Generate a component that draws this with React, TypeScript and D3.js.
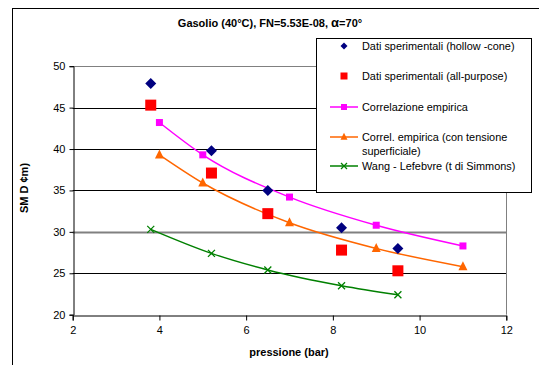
import { useRef, useEffect } from 'react';
import * as d3 from 'd3';

const W = 539;
const H = 365;

// data
const hollowX = [3.8, 5.2, 6.5, 8.2, 9.5];
const hollowY = [47.9, 39.8, 35.0, 30.5, 28.0];
const allPurposeX = [3.8, 5.2, 6.5, 8.2, 9.5];
const allPurposeY = [45.3, 37.1, 32.2, 27.8, 25.3];
const correlX = [4, 5, 7, 9, 11];
const correlY = [43.2, 39.3, 34.2, 30.8, 28.3];
const tensioneX = [4, 5, 7, 9, 11];
const tensioneY = [39.3, 35.9, 31.1, 28.0, 25.8];
const wangX = [3.8, 5.2, 6.5, 8.2, 9.5];
const wangY = [30.3, 27.4, 25.4, 23.5, 22.4];

const xTicks = [2, 4, 6, 8, 10, 12];
const yTicks = [20, 25, 30, 35, 40, 45, 50];

const FONT = 'Liberation Sans, Arial, sans-serif';

type Pt = [number, number];
const zip = (xs: number[], ys: number[]): Pt[] => xs.map((x, i) => [x, ys[i]]);

export default function App() {
  const svgRef = useRef<SVGSVGElement>(null);

  useEffect(() => {
    document.body.style.margin = '0';
    const svg = d3.select(svgRef.current);
    svg.selectAll('*').remove();

    const x = d3.scaleLinear().domain([2, 12]).range([72.7, 506.3]);
    const y = d3.scaleLinear().domain([20, 50]).range([314.7, 66.2]);

    svg.append('rect').attr('width', W).attr('height', H).attr('fill', '#fff');

    // outer chart border (runs off the picture right and bottom)
    svg
      .append('rect')
      .attr('x', 12.5)
      .attr('y', 8.5)
      .attr('width', 700)
      .attr('height', 500)
      .attr('fill', 'none')
      .attr('stroke', '#000')
      .attr('stroke-width', 1);

    // title
    const title = svg
      .append('text')
      .attr('x', 270)
      .attr('y', 27)
      .attr('text-anchor', 'middle')
      .attr('font-family', FONT)
      .attr('font-size', 11)
      .attr('font-weight', 700);
    title.append('tspan').text('Gasolio (40°C), FN=5.53E-08, ');
    title.append('tspan').attr('font-size', 13).text('α');
    title.append('tspan').text('=70°');

    // gridlines
    yTicks.slice(1, -1).forEach((v) => {
      svg
        .append('line')
        .attr('x1', x(2))
        .attr('x2', x(12))
        .attr('y1', Math.round(y(v)) + 0.5)
        .attr('y2', Math.round(y(v)) + 0.5)
        .attr('stroke', v === 30 ? '#808080' : '#000')
        .attr('stroke-width', v === 30 ? 2 : 1);
    });

    // plot area frame (top/right grey)
    svg
      .append('path')
      .attr(
        'd',
        `M${x(2)},${Math.round(y(50)) + 0.5}H${Math.round(x(12)) + 0.5}V${y(20)}`,
      )
      .attr('fill', 'none')
      .attr('stroke', '#808080')
      .attr('stroke-width', 1);

    // axes
    const xAxis = d3
      .axisBottom(x)
      .tickValues(xTicks)
      .tickSize(5)
      .tickPadding(6)
      .tickFormat((d) => String(d));
    const gx = svg
      .append('g')
      .attr('transform', `translate(0,${Math.round(y(20)) + 0.5})`)
      .call(xAxis);
    gx.select('.domain').attr('stroke', '#000');
    gx.selectAll('text')
      .attr('font-family', FONT)
      .attr('font-size', 11)
      .attr('fill', '#000');

    const yAxis = d3
      .axisLeft(y)
      .tickValues(yTicks)
      .tickSize(4)
      .tickPadding(4)
      .tickFormat((d) => String(d));
    const gy = svg
      .append('g')
      .attr('transform', `translate(${Math.round(x(2)) + 0.5},0)`)
      .call(yAxis);
    gy.select('.domain').attr('stroke', '#000');
    gy.selectAll('text')
      .attr('font-family', FONT)
      .attr('font-size', 11)
      .attr('fill', '#000');

    // axis titles
    svg
      .append('text')
      .attr('x', 289)
      .attr('y', 356)
      .attr('text-anchor', 'middle')
      .attr('font-family', FONT)
      .attr('font-size', 11)
      .attr('font-weight', 700)
      .text('pressione (bar)');
    svg
      .append('text')
      .attr('transform', 'translate(28,188) rotate(-90)')
      .attr('text-anchor', 'middle')
      .attr('font-family', FONT)
      .attr('font-size', 11)
      .attr('font-weight', 700)
      .text('SM D ¢m)');

    // lines
    const line = d3
      .line<Pt>()
      .x((d) => x(d[0]))
      .y((d) => y(d[1]))
      .curve(d3.curveMonotoneX);
    const lineSeries: [Pt[], string][] = [
      [zip(correlX, correlY), '#FF00FF'],
      [zip(tensioneX, tensioneY), '#FF6600'],
      [zip(wangX, wangY), '#008000'],
    ];
    lineSeries.forEach(([pts, c]) => {
      svg
        .append('path')
        .attr('d', line(pts))
        .attr('fill', 'none')
        .attr('stroke', c)
        .attr('stroke-width', 1.5);
    });

    // markers
    const diamond = (g: d3.Selection<any, any, any, any>, cx: number, cy: number, r: number, c: string) =>
      g
        .append('path')
        .attr('d', `M${cx},${cy - r}L${cx + r},${cy}L${cx},${cy + r}L${cx - r},${cy}Z`)
        .attr('fill', c);
    const square = (g: d3.Selection<any, any, any, any>, cx: number, cy: number, s: number, c: string) =>
      g
        .append('rect')
        .attr('x', cx - s / 2)
        .attr('y', cy - s / 2)
        .attr('width', s)
        .attr('height', s)
        .attr('fill', c);
    const triangle = (g: d3.Selection<any, any, any, any>, cx: number, cy: number, s: number, c: string) =>
      g
        .append('path')
        .attr('d', `M${cx},${cy - s * 0.6}L${cx + s / 2},${cy + s * 0.4}L${cx - s / 2},${cy + s * 0.4}Z`)
        .attr('fill', c);
    const cross = (g: d3.Selection<any, any, any, any>, cx: number, cy: number, s: number, c: string) =>
      g
        .append('path')
        .attr('d', `M${cx - s},${cy - s}L${cx + s},${cy + s}M${cx - s},${cy + s}L${cx + s},${cy - s}`)
        .attr('stroke', c)
        .attr('stroke-width', 1.3)
        .attr('fill', 'none');

    zip(correlX, correlY).forEach(([a, b]) => square(svg, x(a), y(b), 7, '#FF00FF'));
    zip(tensioneX, tensioneY).forEach(([a, b]) => triangle(svg, x(a), y(b), 9, '#FF6600'));
    zip(wangX, wangY).forEach(([a, b]) => cross(svg, x(a), y(b), 3.5, '#008000'));
    zip(allPurposeX, allPurposeY).forEach(([a, b]) => square(svg, x(a), y(b), 11, '#FF0000'));
    zip(hollowX, hollowY).forEach(([a, b]) => diamond(svg, x(a), y(b), 5.5, '#000080'));

    // legend
    const lg = svg.append('g');
    lg.append('rect')
      .attr('x', 316.5)
      .attr('y', 38.5)
      .attr('width', 215)
      .attr('height', 154)
      .attr('fill', '#fff')
      .attr('stroke', '#000')
      .attr('stroke-width', 1);
    const lx = 344;
    const tx = 362;
    const legendItems: { label: string[]; y: number; draw: (cy: number) => void }[] = [
      { label: ['Dati sperimentali (hollow -cone)'], y: 46, draw: (cy) => diamond(lg, lx, cy, 3.5, '#000080') },
      { label: ['Dati sperimentali (all-purpose)'], y: 76, draw: (cy) => square(lg, lx, cy, 7, '#FF0000') },
      {
        label: ['Correlazione empirica'],
        y: 107,
        draw: (cy) => {
          lg.append('line').attr('x1', 330).attr('x2', 358).attr('y1', cy).attr('y2', cy).attr('stroke', '#FF00FF').attr('stroke-width', 1.5);
          square(lg, lx, cy, 6, '#FF00FF');
        },
      },
      {
        label: ['Correl. empirica (con tensione', 'superficiale)'],
        y: 137,
        draw: (cy) => {
          lg.append('line').attr('x1', 330).attr('x2', 358).attr('y1', cy).attr('y2', cy).attr('stroke', '#FF6600').attr('stroke-width', 1.5);
          triangle(lg, lx, cy, 7, '#FF6600');
        },
      },
      {
        label: ['Wang - Lefebvre (t di Simmons)'],
        y: 166,
        draw: (cy) => {
          lg.append('line').attr('x1', 330).attr('x2', 358).attr('y1', cy).attr('y2', cy).attr('stroke', '#008000').attr('stroke-width', 1.5);
          cross(lg, lx, cy, 3, '#008000');
        },
      },
    ];
    legendItems.forEach((it) => {
      it.draw(it.y);
      it.label.forEach((l, i) => {
        lg.append('text')
          .attr('x', tx)
          .attr('y', it.y + 4 + i * 14)
          .attr('font-family', FONT)
          .attr('font-size', 10.9)
          .attr('fill', '#000')
          .text(l);
      });
    });
  }, []);

  return <svg ref={svgRef} width={W} height={H} style={{ display: 'block' }} />;
}
